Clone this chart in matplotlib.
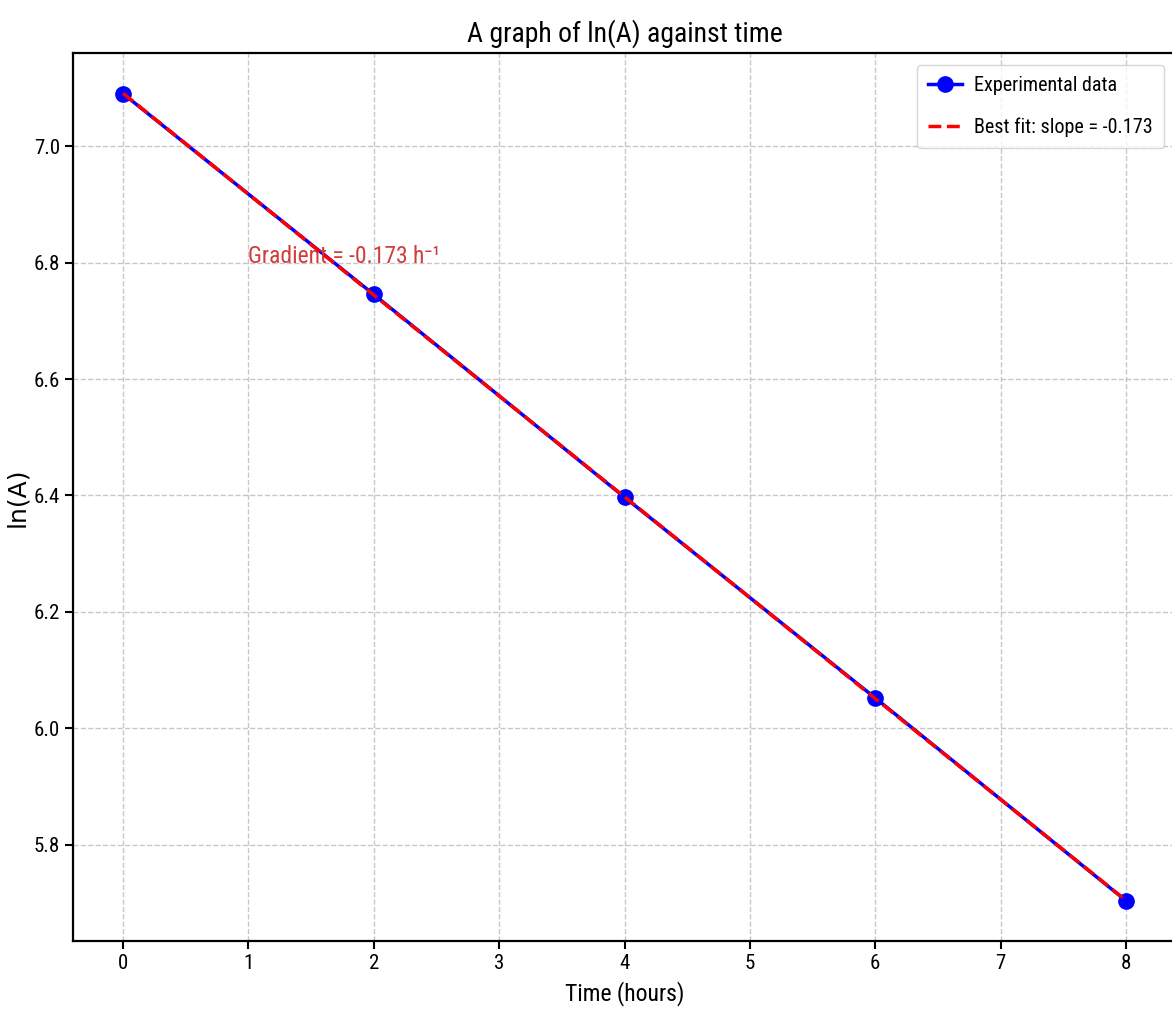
import numpy as np
import matplotlib
matplotlib.use("Agg")
import matplotlib.pyplot as plt

# Data
time_hours = [0, 2, 4, 6, 8]
absorbance = [1200, 850, 600, 425, 300]
ln_A = np.log(absorbance)

slope, intercept = np.polyfit(time_hours, ln_A, 1)
fit_vals = slope * np.array(time_hours) + intercept

title_text = "A graph of ln(A) against time"
x_label = "Time (hours)"
y_label = "ln(A)"
legend_data = "Experimental data"
legend_fit = f"Best fit: slope = {slope:.3f}"
grad_text = f"Gradient = {slope:.3f} h\u207b\u00b9"

cond = ["Roboto Condensed", "DejaVu Sans"]
plt.rcParams["font.family"] = cond

fig = plt.figure(figsize=(11.72, 10.23), dpi=100)
ax = fig.add_axes([73 / 1172, (1023 - 941) / 1023, (1176 - 73) / 1172, (941 - 53) / 1023])

ax.plot(time_hours, ln_A, "o-", color="blue", linewidth=2.5, markersize=11,
        label=legend_data, zorder=3)
ax.plot(time_hours, fit_vals, "--", color="red", linewidth=2.5,
        label=legend_fit, zorder=4)

ax.text(1, 6.8, grad_text, color="#d23c3c", fontsize=17, family=cond)

ax.set_title(title_text, fontsize=20, pad=8)
ax.set_xlabel(x_label, fontsize=17, labelpad=6)
ax.set_ylabel(y_label, fontsize=18, family=["DejaVu Sans"], labelpad=3)

ax.set_xticks(range(0, 9))
ax.tick_params(axis="both", labelsize=15, width=1.5, length=6)
ax.grid(True, linestyle="--", color="#b0b0b0", alpha=0.7, linewidth=1)
for sp in ax.spines.values():
    sp.set_linewidth(1.6)

leg = ax.legend(loc="upper right", fontsize=14.5, framealpha=0.8, borderaxespad=0.6,
                handlelength=1.7, handletextpad=0.6, labelspacing=1.1, borderpad=0.55)

fig.savefig("out.png", dpi=100)
